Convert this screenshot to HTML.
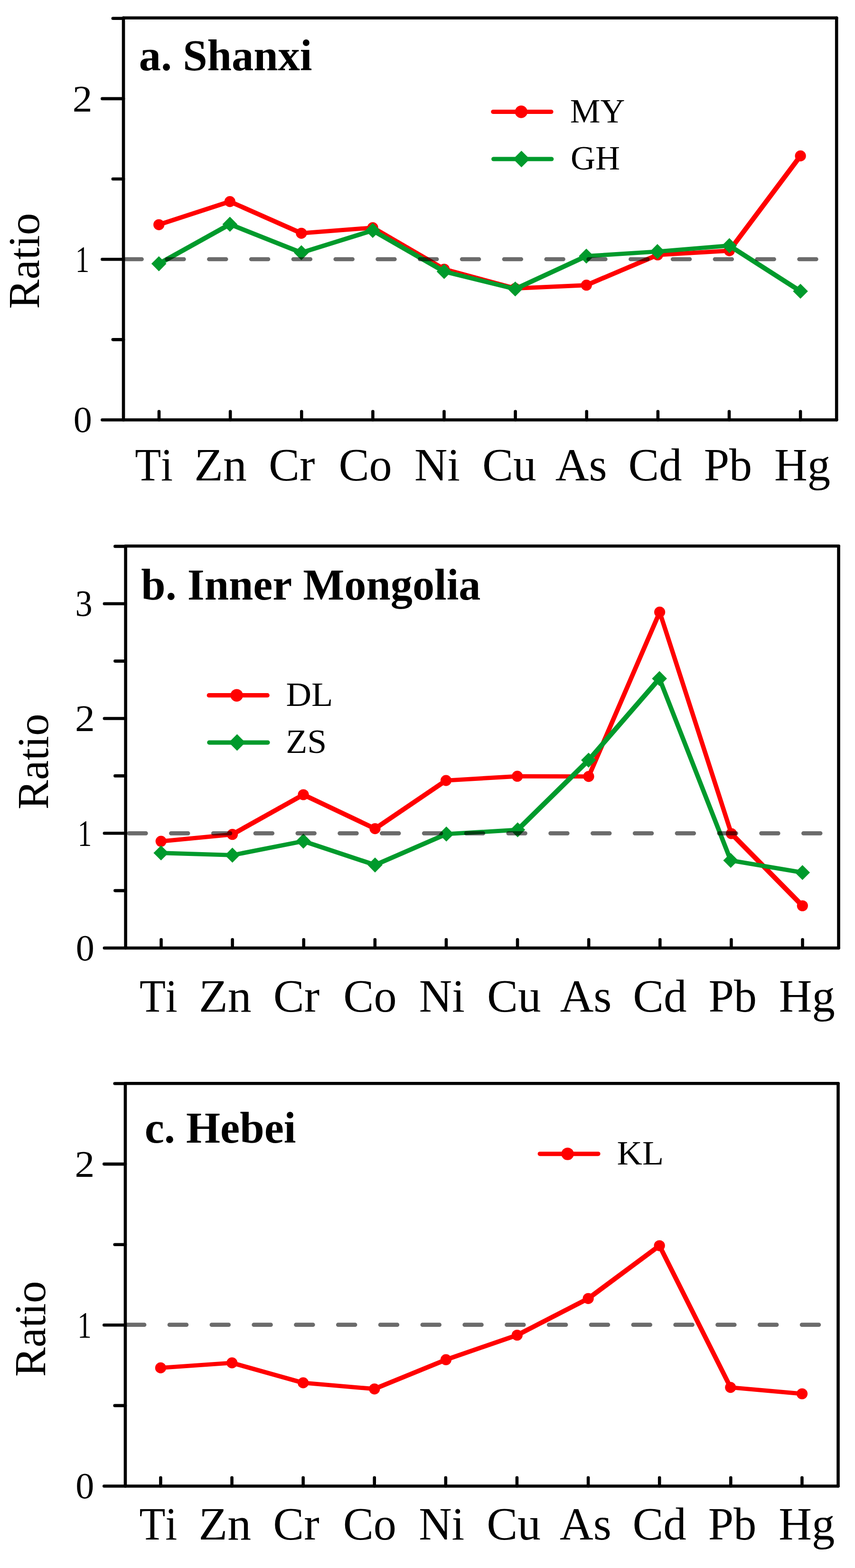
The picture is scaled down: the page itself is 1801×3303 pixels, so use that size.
<!DOCTYPE html>
<html lang="en">
<head>
<meta charset="utf-8">
<title>Ratio of elements: Shanxi, Inner Mongolia, Hebei</title>
<style>
html,body{margin:0;padding:0;background:#fff;}
body{width:1801px;height:3303px;overflow:hidden;}
svg{display:block;}
text{font-family:"Liberation Serif","Times New Roman",Times,serif;fill:#000;font-kerning:none;}
.t{font-weight:bold;font-size:92.6px;}
.x{font-size:97.4px;}
.y{font-size:79px;}
.r{font-size:93px;}
.l{font-size:71.4px;}
.ax{stroke:#000;stroke-width:6.6;fill:none;stroke-linecap:round;stroke-linejoin:round;}
.dl{fill:none;stroke-width:9.2;stroke-linejoin:round;stroke-linecap:round;}
.dash{stroke:#000;stroke-opacity:0.58;stroke-width:8.7;stroke-linecap:round;stroke-dasharray:35.8 53;fill:none;}
</style>
</head>
<body>
<svg width="1801" height="3303" viewBox="0 0 1801 3303">
<rect width="1801" height="3303" fill="#fff"/>
<g id="panel-a">
<g class="dl" stroke="#ff0000"><path d="M334.7 473.3L484.3 424.6" stroke-width="9.42"/><path d="M484.3 424.6L634.8 491.3" stroke-width="9.72"/><path d="M634.8 491.3L785.1 479.7" stroke-width="8.94"/><path d="M785.1 479.7L935.6 567" stroke-width="10.03"/><path d="M935.6 567L1085.3 607.5" stroke-width="9.28"/><path d="M1085.3 607.5L1235.3 600.7" stroke-width="8.91"/><path d="M1235.3 600.7L1385.3 537" stroke-width="9.68"/><path d="M1385.3 537L1536.4 528.1" stroke-width="8.92"/><path d="M1536.4 528.1L1686.1 328.4" stroke-width="10.28"/></g>
<circle cx="334.7" cy="473.3" r="11.6" fill="#ff0000"/><circle cx="484.3" cy="424.6" r="11.6" fill="#ff0000"/><circle cx="634.8" cy="491.3" r="11.6" fill="#ff0000"/><circle cx="785.1" cy="479.7" r="11.6" fill="#ff0000"/><circle cx="935.6" cy="567" r="11.6" fill="#ff0000"/><circle cx="1085.3" cy="607.5" r="11.6" fill="#ff0000"/><circle cx="1235.3" cy="600.7" r="11.6" fill="#ff0000"/><circle cx="1385.3" cy="537" r="11.6" fill="#ff0000"/><circle cx="1536.4" cy="528.1" r="11.6" fill="#ff0000"/><circle cx="1686.1" cy="328.4" r="11.6" fill="#ff0000"/>
<g class="dl" stroke="#009a2c"><path d="M334.7 555.6L484.3 472.4" stroke-width="9.98"/><path d="M484.3 472.4L634.8 532.3" stroke-width="9.61"/><path d="M634.8 532.3L785.1 485.4" stroke-width="9.39"/><path d="M785.1 485.4L935.6 571.9" stroke-width="10.02"/><path d="M935.6 571.9L1085.3 608.7" stroke-width="9.22"/><path d="M1085.3 608.7L1235.1 539.5" stroke-width="9.77"/><path d="M1235.1 539.5L1384.8 529.9" stroke-width="8.92"/><path d="M1384.8 529.9L1536.4 517.4" stroke-width="8.94"/><path d="M1536.4 517.4L1686.1 613.5" stroke-width="10.14"/></g>
<path d="M334.7 539.8L350.5 555.6L334.7 571.4L318.9 555.6Z" fill="#009a2c"/><path d="M484.3 456.6L500.1 472.4L484.3 488.2L468.5 472.4Z" fill="#009a2c"/><path d="M634.8 516.5L650.6 532.3L634.8 548.1L619 532.3Z" fill="#009a2c"/><path d="M785.1 469.6L800.9 485.4L785.1 501.2L769.3 485.4Z" fill="#009a2c"/><path d="M935.6 556.1L951.4 571.9L935.6 587.7L919.8 571.9Z" fill="#009a2c"/><path d="M1085.3 592.9L1101.1 608.7L1085.3 624.5L1069.5 608.7Z" fill="#009a2c"/><path d="M1235.1 523.7L1250.9 539.5L1235.1 555.3L1219.3 539.5Z" fill="#009a2c"/><path d="M1384.8 514.1L1400.6 529.9L1384.8 545.7L1369 529.9Z" fill="#009a2c"/><path d="M1536.4 501.6L1552.2 517.4L1536.4 533.2L1520.6 517.4Z" fill="#009a2c"/><path d="M1686.1 597.7L1701.9 613.5L1686.1 629.3L1670.3 613.5Z" fill="#009a2c"/>
<path class="dl" stroke="#ff0000" stroke-width="9.6" d="M1038.8 235.5H1161"/><circle cx="1097.9" cy="235.5" r="13.2" fill="#ff0000"/>
<text class="l" transform="translate(1200.63 257.7) scale(1.0065 1)">MY</text>
<path class="dl" stroke="#009a2c" stroke-width="9.6" d="M1039.6 335H1161.8"/><path d="M1098.4 317.5L1115.9 335L1098.4 352.5L1080.9 335Z" fill="#009a2c"/>
<text class="l" transform="translate(1202.04 356.5) scale(1.0091 1)">GH</text>
<path class="dash" d="M262.75 546H1759.2"/>
<path class="ax" stroke-width="6.2" d="M260.05 884.5V37.8M1762.2 37.8V884.5"/>
<path class="ax" stroke-width="6.9" d="M260.05 37.8H1762.2M260.05 884.5H1762.2"/>
<path class="ax" d="M260.05 884.5h-44.7M260.05 715.35h-22.2M260.05 546.2h-44.7M260.05 377.05h-22.2M260.05 207.9h-44.7M260.05 38.75h-22.2M335 884.5v-17.6M485.12 884.5v-17.6M635.24 884.5v-17.6M785.37 884.5v-17.6M935.49 884.5v-17.6M1085.61 884.5v-17.6M1235.73 884.5v-17.6M1385.86 884.5v-17.6M1535.98 884.5v-17.6M1686.1 884.5v-17.6"/>
<text class="y" transform="translate(154.63 910.1) scale(0.9886 1)">0</text>
<text class="y" transform="translate(158.66 571.8) scale(0.7479 1)">1</text>
<text class="y" transform="translate(152.78 233.5) scale(1.0578 1)">2</text>
<text class="r" transform="translate(82 650.69) rotate(-90) scale(1.0027 1)">Ratio</text>
<text class="x" transform="translate(284.18 1011.7) scale(0.9223 1)">Ti</text>
<text class="x" transform="translate(409.24 1011.7) scale(1.0219 1)">Zn</text>
<text class="x" transform="translate(566 1011.7) scale(1.0006 1)">Cr</text>
<text class="x" transform="translate(713.45 1011.7) scale(0.9876 1)">Co</text>
<text class="x" transform="translate(873.03 1011.7) scale(0.9856 1)">Ni</text>
<text class="x" transform="translate(1016.1 1011.7) scale(1.0009 1)">Cu</text>
<text class="x" transform="translate(1169.84 1011.7) scale(1.0051 1)">As</text>
<text class="x" transform="translate(1323.42 1011.7) scale(0.9956 1)">Cd</text>
<text class="x" transform="translate(1482.63 1011.7) scale(0.9870 1)">Pb</text>
<text class="x" transform="translate(1630.96 1011.7) scale(0.9928 1)">Hg</text>
<text class="t" transform="translate(292.72 147.6) scale(0.9984 1)">a. Shanxi</text>
</g>
<g id="panel-b">
<g class="dl" stroke="#ff0000"><path d="M339.2 1772.2L489.5 1757.7" stroke-width="8.95"/><path d="M489.5 1757.7L639 1674" stroke-width="9.99"/><path d="M639 1674L790 1745.6" stroke-width="9.8"/><path d="M790 1745.6L939.5 1644.1" stroke-width="10.2"/><path d="M939.5 1644.1L1089.7 1635.2" stroke-width="8.92"/><path d="M1089.7 1635.2L1240 1635.6" stroke-width="8.9"/><path d="M1240 1635.6L1389.6 1289.4" stroke-width="9.7"/><path d="M1389.6 1289.4L1540.6 1756" stroke-width="9.41"/><path d="M1540.6 1756L1690.3 1908" stroke-width="10.4"/></g>
<circle cx="339.2" cy="1772.2" r="11.6" fill="#ff0000"/><circle cx="489.5" cy="1757.7" r="11.6" fill="#ff0000"/><circle cx="639" cy="1674" r="11.6" fill="#ff0000"/><circle cx="790" cy="1745.6" r="11.6" fill="#ff0000"/><circle cx="939.5" cy="1644.1" r="11.6" fill="#ff0000"/><circle cx="1089.7" cy="1635.2" r="11.6" fill="#ff0000"/><circle cx="1240" cy="1635.6" r="11.6" fill="#ff0000"/><circle cx="1389.6" cy="1289.4" r="11.6" fill="#ff0000"/><circle cx="1540.6" cy="1756" r="11.6" fill="#ff0000"/><circle cx="1690.3" cy="1908" r="11.6" fill="#ff0000"/>
<g class="dl" stroke="#009a2c"><path d="M339.2 1796.8L489.5 1801.4" stroke-width="8.91"/><path d="M489.5 1801.4L639 1771.9" stroke-width="9.12"/><path d="M639 1771.9L790 1822.1" stroke-width="9.44"/><path d="M790 1822.1L940.2 1756.9" stroke-width="9.7"/><path d="M940.2 1756.9L1090.4 1748" stroke-width="8.92"/><path d="M1090.4 1748L1239.8 1601.3" stroke-width="10.4"/><path d="M1239.8 1601.3L1389.1 1429.4" stroke-width="10.37"/><path d="M1389.1 1429.4L1539.2 1812.5" stroke-width="9.59"/><path d="M1539.2 1812.5L1690.3 1838" stroke-width="9.06"/></g>
<path d="M339.2 1781L355 1796.8L339.2 1812.6L323.4 1796.8Z" fill="#009a2c"/><path d="M489.5 1785.6L505.3 1801.4L489.5 1817.2L473.7 1801.4Z" fill="#009a2c"/><path d="M639 1756.1L654.8 1771.9L639 1787.7L623.2 1771.9Z" fill="#009a2c"/><path d="M790 1806.3L805.8 1822.1L790 1837.9L774.2 1822.1Z" fill="#009a2c"/><path d="M940.2 1741.1L956 1756.9L940.2 1772.7L924.4 1756.9Z" fill="#009a2c"/><path d="M1090.4 1732.2L1106.2 1748L1090.4 1763.8L1074.6 1748Z" fill="#009a2c"/><path d="M1239.8 1585.5L1255.6 1601.3L1239.8 1617.1L1224 1601.3Z" fill="#009a2c"/><path d="M1389.1 1413.6L1404.9 1429.4L1389.1 1445.2L1373.3 1429.4Z" fill="#009a2c"/><path d="M1539.2 1796.7L1555 1812.5L1539.2 1828.3L1523.4 1812.5Z" fill="#009a2c"/><path d="M1690.3 1822.2L1706.1 1838L1690.3 1853.8L1674.5 1838Z" fill="#009a2c"/>
<path class="dl" stroke="#ff0000" stroke-width="9.6" d="M440.2 1464.7H563.2"/><circle cx="498.6" cy="1464.7" r="13.2" fill="#ff0000"/>
<text class="l" transform="translate(602.57 1486.6) scale(1.0379 1)">DL</text>
<path class="dl" stroke="#009a2c" stroke-width="9.6" d="M440.8 1564.1H564"/><path d="M499.4 1546.6L516.9 1564.1L499.4 1581.6L481.9 1564.1Z" fill="#009a2c"/>
<text class="l" transform="translate(602.27 1585.5) scale(1.0321 1)">ZS</text>
<path class="dash" d="M271.55 1755.3H1763.5"/>
<path class="ax" stroke-width="7.1" d="M264.6 1997V1150.3M1766.5 1150.3V1997"/>
<path class="ax" stroke-width="6.9" d="M264.6 1150.3H1766.5M264.6 1997H1766.5"/>
<path class="ax" d="M264.6 1997h-44.7M264.6 1876.12h-22.2M264.6 1755.25h-44.7M264.6 1634.38h-22.2M264.6 1513.5h-44.7M264.6 1392.62h-22.2M264.6 1271.75h-44.7M264.6 1150.88h-22.2M339.5 1997v-17.6M489.61 1997v-17.6M639.72 1997v-17.6M789.83 1997v-17.6M939.94 1997v-17.6M1090.06 1997v-17.6M1240.17 1997v-17.6M1390.28 1997v-17.6M1540.39 1997v-17.6M1690.5 1997v-17.6"/>
<text class="y" transform="translate(159.73 2022.6) scale(0.9886 1)">0</text>
<text class="y" transform="translate(163.76 1780.85) scale(0.7479 1)">1</text>
<text class="y" transform="translate(157.88 1539.1) scale(1.0578 1)">2</text>
<text class="y" transform="translate(158.55 1297.35) scale(0.9132 1)">3</text>
<text class="r" transform="translate(100.8 1705.18) rotate(-90) scale(1.0012 1)">Ratio</text>
<text class="x" transform="translate(293.98 2131.4) scale(0.9223 1)">Ti</text>
<text class="x" transform="translate(419.04 2131.4) scale(1.0219 1)">Zn</text>
<text class="x" transform="translate(575.8 2131.4) scale(1.0006 1)">Cr</text>
<text class="x" transform="translate(723.25 2131.4) scale(0.9876 1)">Co</text>
<text class="x" transform="translate(882.83 2131.4) scale(0.9856 1)">Ni</text>
<text class="x" transform="translate(1025.9 2131.4) scale(1.0009 1)">Cu</text>
<text class="x" transform="translate(1179.64 2131.4) scale(1.0051 1)">As</text>
<text class="x" transform="translate(1333.22 2131.4) scale(0.9956 1)">Cd</text>
<text class="x" transform="translate(1492.43 2131.4) scale(0.9870 1)">Pb</text>
<text class="x" transform="translate(1640.76 2131.4) scale(0.9928 1)">Hg</text>
<text class="t" transform="translate(297.33 1262.6) scale(0.9964 1)">b. Inner Mongolia</text>
</g>
<g id="panel-c">
<g class="dl" stroke="#ff0000"><path d="M338.4 2881.4L488.7 2870.9" stroke-width="8.93"/><path d="M488.7 2870.9L638.6 2912.9" stroke-width="9.3"/><path d="M638.6 2912.9L788.8 2925.8" stroke-width="8.94"/><path d="M788.8 2925.8L939.4 2864.2" stroke-width="9.64"/><path d="M939.4 2864.2L1089.3 2812.5" stroke-width="9.47"/><path d="M1089.3 2812.5L1239.1 2735.3" stroke-width="9.89"/><path d="M1239.1 2735.3L1389.1 2624" stroke-width="10.27"/><path d="M1389.1 2624L1538.8 2922.6" stroke-width="9.86"/><path d="M1538.8 2922.6L1689.5 2936" stroke-width="8.95"/></g>
<circle cx="338.4" cy="2881.4" r="11.6" fill="#ff0000"/><circle cx="488.7" cy="2870.9" r="11.6" fill="#ff0000"/><circle cx="638.6" cy="2912.9" r="11.6" fill="#ff0000"/><circle cx="788.8" cy="2925.8" r="11.6" fill="#ff0000"/><circle cx="939.4" cy="2864.2" r="11.6" fill="#ff0000"/><circle cx="1089.3" cy="2812.5" r="11.6" fill="#ff0000"/><circle cx="1239.1" cy="2735.3" r="11.6" fill="#ff0000"/><circle cx="1389.1" cy="2624" r="11.6" fill="#ff0000"/><circle cx="1538.8" cy="2922.6" r="11.6" fill="#ff0000"/><circle cx="1689.5" cy="2936" r="11.6" fill="#ff0000"/>
<path class="dl" stroke="#ff0000" stroke-width="9.6" d="M1137.2 2430.6H1260"/><circle cx="1195.6" cy="2430.6" r="13.2" fill="#ff0000"/>
<text class="l" transform="translate(1299.62 2453) scale(1.0340 1)">KL</text>
<path class="dash" d="M268.25 2790.7H1762.5"/>
<path class="ax" stroke-width="6.4" d="M263.95 3130.5V2282.2M1765.5 2282.2V3130.5"/>
<path class="ax" stroke-width="7" d="M263.95 2282.2H1765.5M263.95 3130.5H1765.5"/>
<path class="ax" d="M263.95 3130.5h-44.7M263.95 2960.9h-22.2M263.95 2791.3h-44.7M263.95 2621.7h-22.2M263.95 2452.1h-44.7M263.95 2282.5h-22.2M338.4 3130.5v-17.6M488.51 3130.5v-17.6M638.62 3130.5v-17.6M788.73 3130.5v-17.6M938.84 3130.5v-17.6M1088.96 3130.5v-17.6M1239.07 3130.5v-17.6M1389.18 3130.5v-17.6M1539.29 3130.5v-17.6M1689.4 3130.5v-17.6"/>
<text class="y" transform="translate(159.28 3156.1) scale(0.9886 1)">0</text>
<text class="y" transform="translate(163.31 2816.9) scale(0.7479 1)">1</text>
<text class="y" transform="translate(157.43 2477.7) scale(1.0578 1)">2</text>
<text class="r" transform="translate(94.7 2900.28) rotate(-90) scale(1.0017 1)">Ratio</text>
<text class="x" transform="translate(293.38 3243.2) scale(0.9223 1)">Ti</text>
<text class="x" transform="translate(418.44 3243.2) scale(1.0219 1)">Zn</text>
<text class="x" transform="translate(575.2 3243.2) scale(1.0006 1)">Cr</text>
<text class="x" transform="translate(722.65 3243.2) scale(0.9876 1)">Co</text>
<text class="x" transform="translate(882.23 3243.2) scale(0.9856 1)">Ni</text>
<text class="x" transform="translate(1025.3 3243.2) scale(1.0009 1)">Cu</text>
<text class="x" transform="translate(1179.04 3243.2) scale(1.0051 1)">As</text>
<text class="x" transform="translate(1332.62 3243.2) scale(0.9956 1)">Cd</text>
<text class="x" transform="translate(1491.83 3243.2) scale(0.9870 1)">Pb</text>
<text class="x" transform="translate(1640.16 3243.2) scale(0.9928 1)">Hg</text>
<text class="t" transform="translate(304.74 2406.7) scale(0.9996 1)">c. Hebei</text>
</g>
</svg>
</body>
</html>
